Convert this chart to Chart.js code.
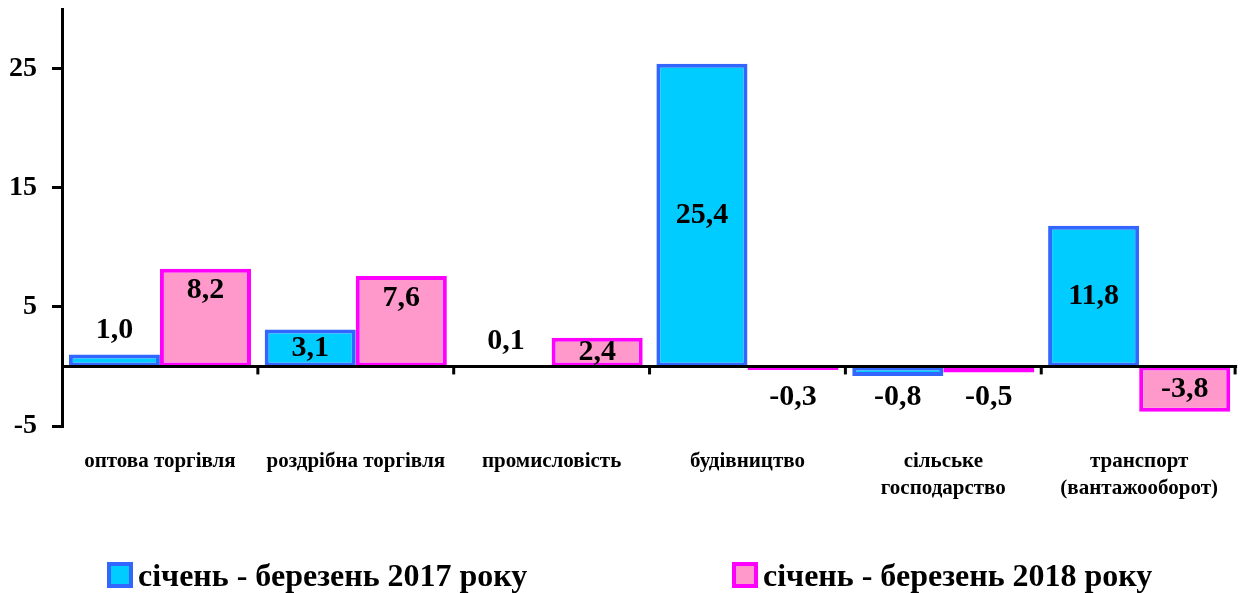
<!DOCTYPE html>
<html>
<head>
<meta charset="utf-8">
<script src="https://cdn.jsdelivr.net/npm/chart.js@4/dist/chart.umd.min.js"></script>
<style>
  body { margin: 0; background: #fff; }
  #wrap { position: relative; width: 1240px; height: 593px; }
  .leg { position: absolute; top: 557px; font: bold 32px 'Liberation Serif', 'Times New Roman', serif; color: #000; white-space: nowrap; }
  .leg i { display: inline-block; width: 18px; height: 18px; border: 4px solid; vertical-align: -2px; margin-right: 5px; }
</style>
</head>
<body>
<div id="wrap">
  <canvas id="grafico"></canvas>
  <div class="leg" id="leg1" style="left:107px"></div>
  <div class="leg" id="leg2" style="left:732px"></div>
</div>
<script>
// dados do gráfico
var categorias = ['оптова торгівля', 'роздрібна торгівля', 'промисловість', 'будівництво', ['сільське', 'господарство'], ['транспорт', '(вантажооборот)']];
var serie2017 = [1.0, 3.1, 0.1, 25.4, -0.8, 11.8];
var serie2018 = [8.2, 7.6, 2.4, -0.3, -0.5, -3.8];
var nomes = ['січень - березень 2017 року', 'січень - березень 2018 року'];
var ticksY = [-5, 5, 15, 25];

var fonte = "'Liberation Serif', 'Times New Roman', serif";
var cores = [
    {fundo: '#00CCFF', borda: '#3366FF'},
    {fundo: '#FF99CC', borda: '#FF00FF'}
];

// legenda em html
[0, 1].forEach(function(i) {
    var el = document.getElementById('leg' + (i + 1));
    el.innerHTML = '<i style="background:' + cores[i].fundo + ';border-color:' + cores[i].borda + '"></i>' + nomes[i];
});

// linha do zero, marcas das categorias e rótulos dos valores
var extras = {
    id: 'extras',
    afterDatasetsDraw: function(chart) {
        var ctx = chart.ctx;
        var y = chart.scales.y;
        var zero = y.getPixelForValue(0);
        var area = chart.chartArea;

        ctx.save();
        ctx.strokeStyle = '#000';
        ctx.lineWidth = 3;
        ctx.beginPath();
        ctx.moveTo(area.left, zero);
        ctx.lineTo(area.right, zero);
        ctx.stroke();

        var passo = (area.right - area.left) / categorias.length;
        for (var k = 1; k <= categorias.length; k++) {
            var px = Math.min(area.left + passo * k, area.right - 2);
            ctx.beginPath();
            ctx.moveTo(px, zero);
            ctx.lineTo(px, zero + 8);
            ctx.stroke();
        }

        ctx.fillStyle = '#000';
        ctx.font = 'bold 30px ' + fonte;
        ctx.textAlign = 'center';
        ctx.textBaseline = 'middle';
        chart.data.datasets.forEach(function(ds, di) {
            chart.getDatasetMeta(di).data.forEach(function(bar, i) {
                var v = ds.data[i];
                var texto = v.toFixed(1).replace('.', ',');
                var h = Math.abs(bar.base - bar.y);
                var ty;
                if (v >= 0) {
                    if (h > 120) ty = (bar.y + bar.base) / 2;
                    else if (h > 24) ty = bar.y + Math.min(h / 2, 22);
                    else ty = bar.y - 24;
                } else {
                    if (h > 30) ty = (bar.y + bar.base) / 2;
                    else ty = zero + 31;
                }
                ctx.fillText(texto, bar.x, ty);
            });
        });
        ctx.restore();
    }
};

new Chart(document.getElementById('grafico'), {
    type: 'bar',
    data: {
        labels: categorias,
        datasets: [
            {label: nomes[0], data: serie2017, backgroundColor: cores[0].fundo, borderColor: cores[0].borda, borderWidth: 4, borderSkipped: false},
            {label: nomes[1], data: serie2018, backgroundColor: cores[1].fundo, borderColor: cores[1].borda, borderWidth: 4, borderSkipped: false}
        ]
    },
    options: {
        responsive: true,
        maintainAspectRatio: false,
        animation: false,
        layout: {padding: {top: 9, right: 0, left: 0, bottom: 0}},
        datasets: {bar: {barPercentage: 1, categoryPercentage: 0.93}},
        plugins: {
            legend: {display: false},
            tooltip: {enabled: false}
        },
        scales: {
            x: {
                grid: {display: false, drawTicks: false},
                border: {display: false},
                ticks: {
                    color: '#000',
                    font: {family: fonte, size: 21, weight: 'bold', lineHeight: 1.29},
                    padding: 22,
                    maxRotation: 0,
                    autoSkip: false
                },
                afterFit: function(s) { s.height = 167; }
            },
            y: {
                min: -5,
                max: 30,
                afterBuildTicks: function(s) {
                    s.ticks = ticksY.map(function(v) { return {value: v}; });
                },
                grid: {drawOnChartArea: false, drawTicks: true, tickLength: 10, tickColor: '#000', lineWidth: 3},
                border: {display: true, color: '#000', width: 3},
                ticks: {
                    color: '#000',
                    font: {family: fonte, size: 28, weight: 'bold'},
                    padding: 15
                },
                afterFit: function(s) { s.width = 62; s.paddingTop = 0; s.paddingBottom = 0; }
            }
        }
    },
    plugins: [extras]
});
</script>
</body>
</html>
